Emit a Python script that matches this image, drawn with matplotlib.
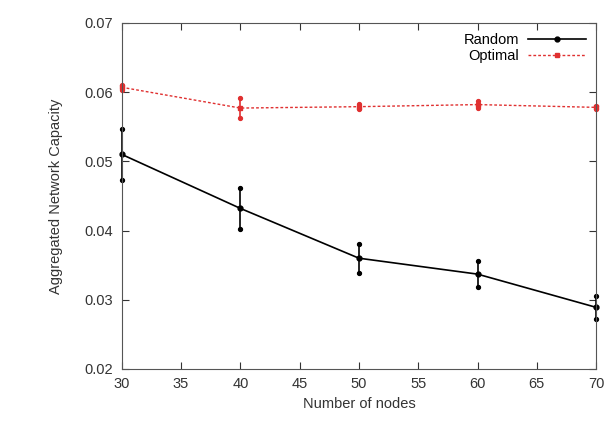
import matplotlib.pyplot as plt
from matplotlib.lines import Line2D
import numpy as np

plt.rcParams['font.family'] = ['Liberation Sans', 'DejaVu Sans']

nodes = [30, 40, 50, 60, 70]
random_cap = [0.0510, 0.0432, 0.0360, 0.0337, 0.0289]
random_err = [0.0037, 0.0030, 0.0021, 0.0019, 0.0017]
optimal_cap = [0.0607, 0.0577, 0.0579, 0.0582, 0.0578]
optimal_err = [0.0004, 0.0015, 0.0004, 0.0005, 0.0002]

fig = plt.figure(figsize=(6.12, 4.33), dpi=100)
ax = fig.add_axes([0.199, 0.148, 0.775, 0.799])

x = np.array(nodes)
series = [
    (np.array(random_cap), np.array(random_err), 'black', '-', 'o', 1.2, 'Random'),
    (np.array(optimal_cap), np.array(optimal_err), '#e03030', (0, (2, 1.5)), 's', 1.0, 'Optimal'),
]
handles = []
for y, e, c, ls, mk, lw, lab in series:
    eb = ax.errorbar(x, y, yerr=e, color=c, linewidth=lw, linestyle=ls,
                     marker=mk, markersize=3.5, capsize=0, elinewidth=1.2)
    for art in eb.get_children():
        art.set_clip_on(False)
    # end points of the error bars drawn as small dots
    ax.plot(np.concatenate([x, x]), np.concatenate([y - e, y + e]), linestyle='none',
            marker='o', markersize=2.8, color=c, clip_on=False)
    handles.append(Line2D([], [], color=c, linestyle=ls, linewidth=lw, marker=mk,
                          markersize=3.5, label=lab))

ax.set_xlim(30, 70)
ax.set_ylim(0.02, 0.07)
ax.set_xticks(np.arange(30, 71, 5))
ax.set_yticks(np.arange(0.02, 0.0701, 0.01))
ax.set_yticklabels(['0.02', '0.03', '0.04', '0.05', '0.06', '0.07'])
ax.tick_params(direction='in', top=True, right=True, labelsize=10.5, length=5,
               colors='#333333', pad=6)
for s in ax.spines.values():
    s.set_color('#555555')

ax.set_xlabel('Number of nodes', fontsize=10.5, color='#333333')
ax.set_ylabel('Aggregated Network Capacity', fontsize=10.5, color='#333333', labelpad=16)

ax.legend(handles=handles, loc='upper right', frameon=False, markerfirst=False, fontsize=10.5,
          handlelength=4, borderaxespad=0.3, labelspacing=0.1, handletextpad=0.6)

fig.savefig('out.png', dpi=100)
